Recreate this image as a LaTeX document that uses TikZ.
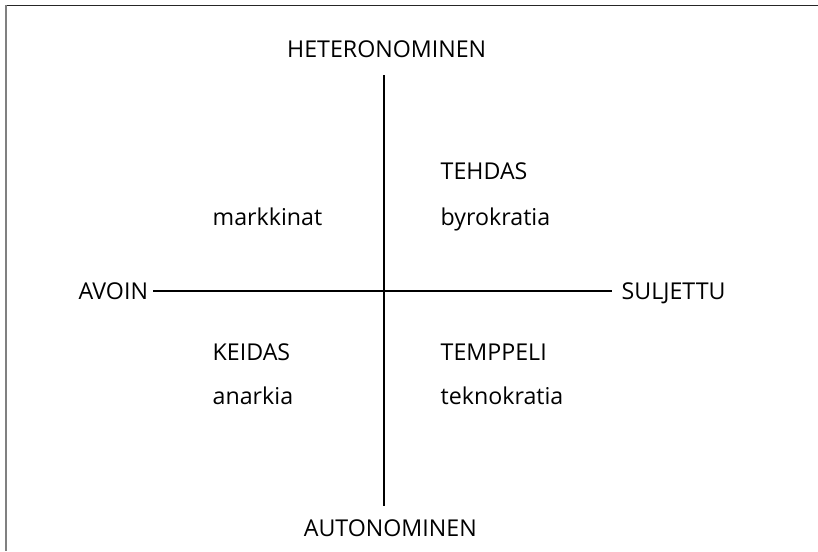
\documentclass[tikz,border=0pt]{standalone}
\usepackage{fontspec}
\setmainfont{Open Sans}
\begin{document}
\begin{tikzpicture}[x=1pt,y=-1pt,
  lbl/.style={inner sep=0pt,outer sep=0pt,font=\fontsize{23.2}{28}\selectfont},
  axis/.style={line width=2pt,black}]
\useasboundingbox (0,0) rectangle (818,551);
% frame (top and left edges only)
\draw[line width=1.6pt,black!85] (5,5.5) -- (818,5.5);
\draw[line width=2pt,black!50] (5.5,5) -- (5.5,551);
% axis labels
\node[lbl,anchor=base] (het) at (386.7,57.3) {HETERONOMINEN};
\node[lbl,anchor=base] (aut) at (390.3,536.7) {AUTONOMINEN};
\node[lbl,anchor=base east] (avo) at (148,299.3) {AVOIN};
\node[lbl,anchor=base west] (sul) at (621.7,299.3) {SULJETTU};
% axis ends
\coordinate (vt) at (384.3,75);
\coordinate (vb) at (384.3,506);
\coordinate (hl) at (153,290.5);
\coordinate (hr) at (612,290.5);
\draw[axis] (vt) -- (vb);
\draw[axis] (hl) -- (hr);
% quadrant labels
\node[lbl,anchor=base west] (mar) at (212.7,225) {markkinat};
\node[lbl,anchor=base west] (teh) at (440.7,179.3) {TEHDAS};
\node[lbl,anchor=base west] (byr) at (440.7,225) {byrokratia};
\node[lbl,anchor=base west] (kei) at (212.7,360.7) {KEIDAS};
\node[lbl,anchor=base west] (ana) at (212.7,404) {anarkia};
\node[lbl,anchor=base west] (tem) at (440.7,360.7) {TEMPPELI};
\node[lbl,anchor=base west] (tek) at (440.7,404) {teknokratia};
\end{tikzpicture}
\end{document}
